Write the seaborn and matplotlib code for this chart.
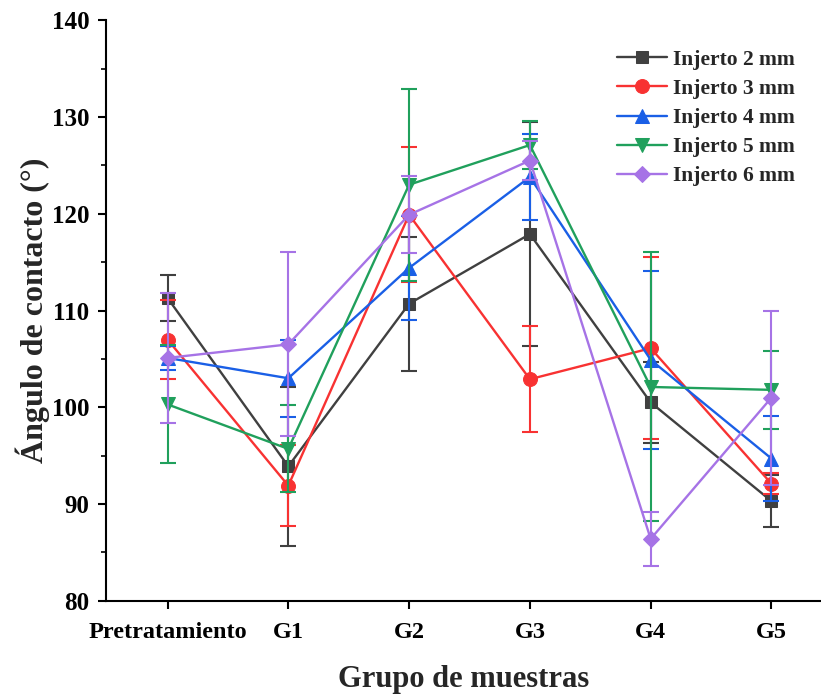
import matplotlib
matplotlib.use("Agg")
import matplotlib.pyplot as plt
import seaborn as sns
import pandas as pd
from matplotlib.ticker import MultipleLocator

# Data
grupos = ["Pretratamiento", "G1", "G2", "G3", "G4", "G5"]
series = ["Injerto 2 mm", "Injerto 3 mm", "Injerto 4 mm", "Injerto 5 mm", "Injerto 6 mm"]

injerto_2 = [111.3, 93.9, 110.7, 117.9, 100.5, 90.3]
injerto_3 = [107.0, 91.9, 119.9, 102.9, 106.1, 92.1]
injerto_4 = [105.1, 103.0, 114.4, 123.8, 104.9, 94.7]
injerto_5 = [100.3, 95.7, 123.0, 127.1, 102.1, 101.8]
injerto_6 = [105.1, 106.5, 119.9, 125.5, 86.4, 101.0]

err_2 = [2.4, 8.2, 6.9, 11.6, 4.2, 2.7]
err_3 = [4.1, 4.2, 7.0, 5.5, 9.4, 1.1]
err_4 = [1.2, 4.0, 5.4, 4.4, 9.2, 4.4]
err_5 = [6.1, 4.5, 9.9, 2.5, 13.9, 4.0]
err_6 = [6.7, 9.5, 4.0, 2.0, 2.8, 9.0]

valores = [injerto_2, injerto_3, injerto_4, injerto_5, injerto_6]
errores = [err_2, err_3, err_4, err_5, err_6]
colores = ["#404040", "#f83232", "#1a5fe6", "#20a05c", "#a673e6"]
marcadores = ["s", "o", "^", "v", "D"]
tamanos = [9, 10, 10, 10, 8.5]

sns.set_theme(style="ticks")
plt.rcParams["font.family"] = ["Liberation Serif", "DejaVu Serif"]
plt.rcParams["font.weight"] = "bold"

# long table for seaborn
filas = []
for nombre, vals in zip(series, valores):
    for i, v in enumerate(vals):
        filas.append({"x": i, "grupo": grupos[i], "serie": nombre, "valor": v})
df = pd.DataFrame(filas)

fig = plt.figure(figsize=(8.21, 6.97), dpi=100)
ax = fig.add_axes([0.129, 0.138, 0.871, 0.833])

for k, nombre in enumerate(series):
    d = df[df["serie"] == nombre]
    ax.errorbar(d["x"], d["valor"], yerr=errores[k], fmt="none",
                ecolor=colores[k], elinewidth=1.5, capsize=6, capthick=1.5,
                zorder=2 + k)
    sns.lineplot(data=d, x="x", y="valor", ax=ax, color=colores[k],
                 marker=marcadores[k], markersize=tamanos[k],
                 markeredgecolor=colores[k], linewidth=1.7,
                 label=nombre, zorder=2.5 + k)

ax.set_xlim(-0.51, 5.41)
ax.set_ylim(80, 140)
ax.set_xticks(range(len(grupos)))
ax.set_xticklabels(grupos)
ax.yaxis.set_major_locator(MultipleLocator(10))
ax.yaxis.set_minor_locator(MultipleLocator(5))

ax.spines["top"].set_visible(False)
ax.spines["right"].set_visible(False)
for s in ["left", "bottom"]:
    ax.spines[s].set_linewidth(1.5)
    ax.spines[s].set_color("black")

ax.tick_params(axis="both", which="major", direction="out", length=6,
               width=1.5, colors="black")
ax.tick_params(axis="x", labelsize=17.5, pad=9)
ax.tick_params(axis="y", labelsize=18, pad=6)
ax.tick_params(axis="y", which="minor", direction="out", length=3.5,
               width=1.2, colors="black")
for lab in ax.get_xticklabels() + ax.get_yticklabels():
    lab.set_fontweight("bold")

ax.set_xlabel("Grupo de muestras", fontsize=22, fontweight="bold", labelpad=16)
ax.set_ylabel("Ángulo de contacto (°)", fontsize=23, fontweight="bold", labelpad=1)

leg = ax.legend(loc="upper right", bbox_to_anchor=(0.985, 0.975), frameon=False,
                prop={"size": 15.5, "weight": "bold"}, handlelength=2.3,
                handletextpad=0.3, labelspacing=0.42, borderaxespad=0.3)

fig.savefig("out.png", dpi=100)
